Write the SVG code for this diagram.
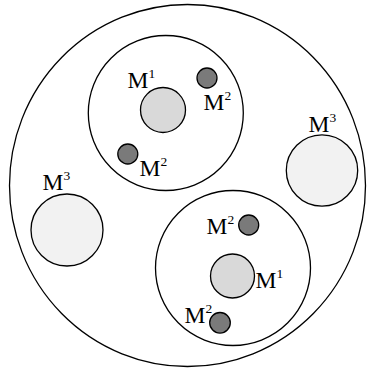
<svg xmlns="http://www.w3.org/2000/svg" width="368" height="371" viewBox="0 0 368 371">
<style>
.ln{stroke:#000;stroke-width:1.3;}
.outer{fill:#fff;}
.inner{fill:#fff;}
.big{fill:#d9d9d9;}
.small{fill:#7a7a7a;}
.m3{fill:#f2f2f2;}
text{font-family:"Liberation Serif","Times New Roman",serif;font-size:23.5px;fill:#000;}
.sup{font-size:13.5px;}
</style>
<rect width="368" height="371" fill="#fff"/>
<g id="outer"><ellipse class="ln outer" cx="187.5" cy="185.5" rx="178" ry="181"/></g>
<g id="cluster-top">
<circle class="ln inner" cx="165.8" cy="113" r="77.5"/>
<circle class="ln big" cx="163" cy="110" r="22.5"/>
<circle class="ln small" cx="207" cy="78" r="10"/>
<circle class="ln small" cx="127.8" cy="154" r="10"/>
<text x="127.5" y="88">M<tspan class="sup" dy="-10">1</tspan></text>
<text x="203.5" y="110">M<tspan class="sup" dy="-10">2</tspan></text>
<text x="139.5" y="176">M<tspan class="sup" dy="-10">2</tspan></text>
</g>
<g id="m3-right">
<circle class="ln m3" cx="322" cy="170.5" r="35.7"/>
<text x="308.5" y="131.5">M<tspan class="sup" dy="-10">3</tspan></text>
</g>
<g id="m3-left">
<circle class="ln m3" cx="67" cy="230" r="36"/>
<text x="42.5" y="190">M<tspan class="sup" dy="-10">3</tspan></text>
</g>
<g id="cluster-bottom">
<circle class="ln inner" cx="233" cy="268" r="77.5"/>
<circle class="ln big" cx="232.5" cy="276" r="22"/>
<circle class="ln small" cx="248.7" cy="225" r="10"/>
<circle class="ln small" cx="220" cy="322.8" r="10.3"/>
<text x="206.5" y="233.5">M<tspan class="sup" dy="-10">2</tspan></text>
<text x="255.5" y="287.5">M<tspan class="sup" dy="-10">1</tspan></text>
<text x="184.5" y="322.5">M<tspan class="sup" dy="-10">2</tspan></text>
</g>
<g id="connectors"></g>
</svg>
